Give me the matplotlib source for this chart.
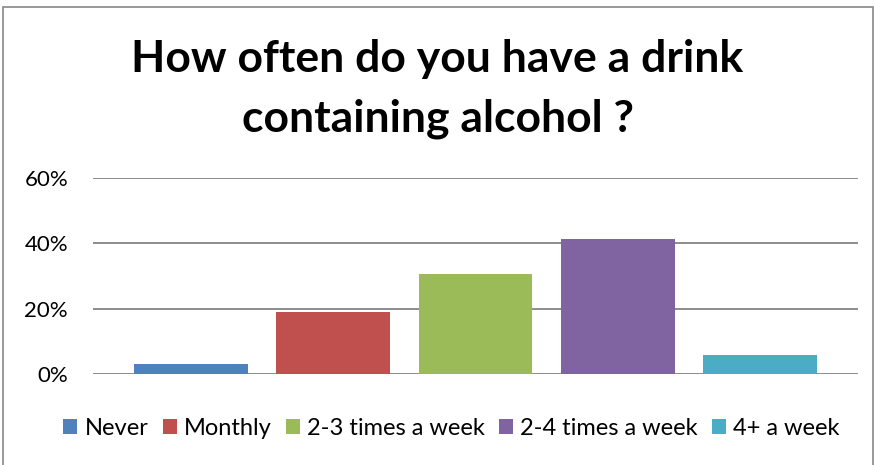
import matplotlib
matplotlib.use("Agg")
import matplotlib.pyplot as plt
from matplotlib.patches import Rectangle, Patch
from matplotlib.ticker import FuncFormatter

categories = ["Never", "Monthly", "2-3 times a week", "2-4 times a week", "4+ a week"]
values = [0.030, 0.190, 0.306, 0.413, 0.058]
colors = ["#4f81bd", "#c0504d", "#9bbb59", "#8064a2", "#4bacc6"]
yticks = [0, 0.2, 0.4, 0.6]

plt.rcParams['font.family'] = ['Lato', 'DejaVu Sans']

fig = plt.figure(figsize=(8.75, 4.65), dpi=100)
ax = fig.add_axes([93/875, 1-374/465, (858-93)/875, (374-178)/465])

x = list(range(len(categories)))
ax.bar(x, values, width=0.8, color=colors, zorder=3)
ax.set_xlim(-0.69, len(categories)-1+0.69)
ax.set_ylim(0, 0.6)
ax.set_yticks(yticks)
ax.yaxis.set_major_formatter(FuncFormatter(lambda v, p: f"{v*100:.0f}%"))
ax.tick_params(axis='y', length=0, pad=18, labelsize=16)
ax.set_xticks([])
for s in ax.spines.values():
    s.set_visible(False)
ax.grid(axis='y', color='#8c8c8c', linewidth=1.4, zorder=0)

fig.text(0.5, 1-89/465, "How often do you have a drink\ncontaining alcohol ?",
         ha='center', va='center', fontsize=32, fontweight='bold', linespacing=1.6)

handles = [Patch(facecolor=c, edgecolor='none') for c in colors]
fig.legend(handles, categories, loc='center', bbox_to_anchor=(0.516, 1-428/465),
           ncol=5, frameon=False, fontsize=17, handlelength=0.6, handleheight=0.6,
           handletextpad=0.3, columnspacing=0.6)

fig.patches.append(Rectangle((3/875, -0.01), 1-3/875-0.002, 1-7/465+0.01,
                             transform=fig.transFigure, fill=False,
                             edgecolor='#888888', linewidth=1.2))

fig.savefig("out.png", dpi=100)
